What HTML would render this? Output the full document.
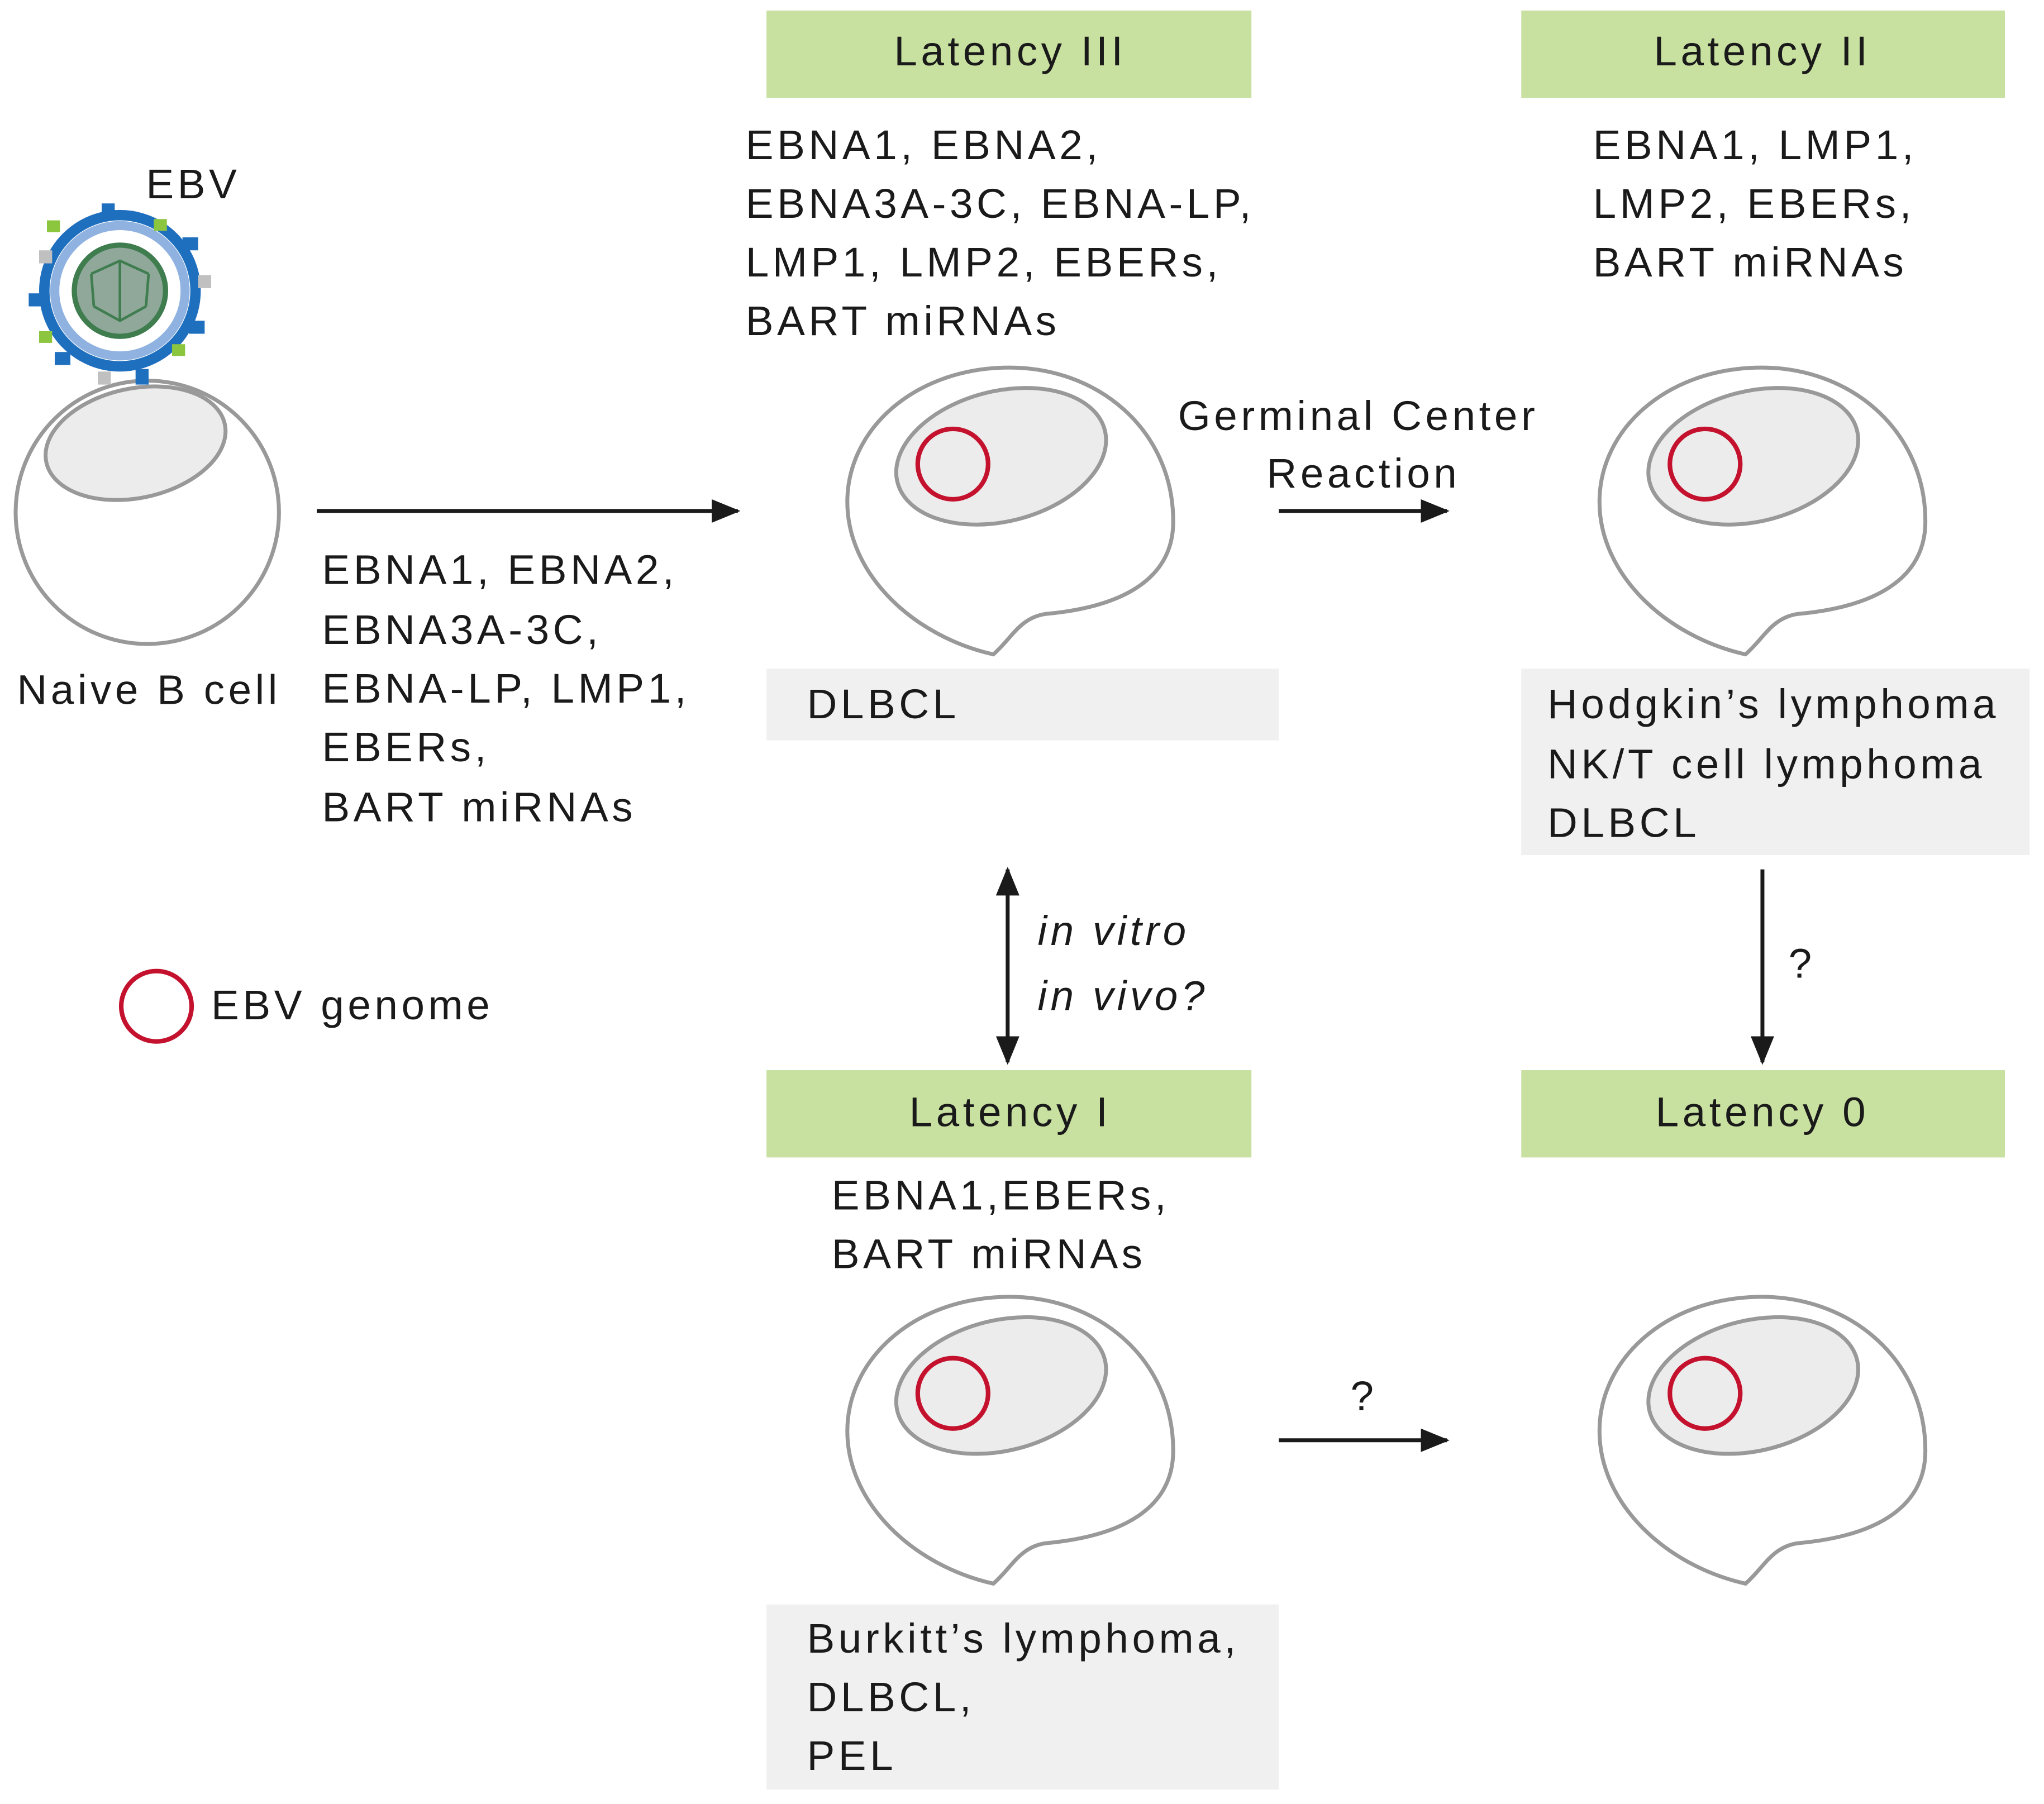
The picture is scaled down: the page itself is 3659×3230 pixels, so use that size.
<!DOCTYPE html>
<html><head><meta charset="utf-8"><style>
html,body{margin:0;padding:0;background:#fff}
svg{display:block}
text{font-family:"Liberation Sans",Arial,sans-serif;fill:#1a1a1a;font-size:32px;letter-spacing:2.8px}
</style></head><body>
<svg width="3659" height="3230" viewBox="0 0 1568 1384" xmlns="http://www.w3.org/2000/svg">
<defs>
<marker id="ah2" markerWidth="22" markerHeight="18" refX="20" refY="9" orient="auto-start-reverse" markerUnits="userSpaceOnUse"><path d="M0,0 L22,9 L0,18 Z" fill="#1a1a1a"/></marker>
<g id="cell">
<path d="M770,282 C700,284 650,330 650,385 C650,440 700,488 762,502 C776,490 782,474 802,471 C868,465 900,440 900,400 C900,330 842,280 770,282 Z" fill="#fff" stroke="#999" stroke-width="3"/>
<ellipse cx="768" cy="350" rx="82" ry="50" transform="rotate(-14 768 350)" fill="#ececec" stroke="#999" stroke-width="3"/>
<circle cx="731" cy="356" r="27" fill="none" stroke="#c4122e" stroke-width="3.5"/>
</g>
</defs>
<rect x="588" y="8" width="372" height="67" fill="#c8e0a0"/>
<rect x="1167" y="8" width="371" height="67" fill="#c8e0a0"/>
<rect x="588" y="821" width="372" height="67" fill="#c8e0a0"/>
<rect x="1167" y="821" width="371" height="67" fill="#c8e0a0"/>
<rect x="588" y="513" width="393" height="55" fill="#f0f0f0"/>
<rect x="1167" y="513" width="390" height="143" fill="#f0f0f0"/>
<rect x="588" y="1231" width="393" height="142" fill="#f0f0f0"/>
<text x="775" y="50" text-anchor="middle">Latency III</text>
<text x="1352" y="50" text-anchor="middle">Latency II</text>
<text x="775" y="864" text-anchor="middle">Latency I</text>
<text x="1352" y="864" text-anchor="middle">Latency 0</text>
<use href="#cell"/>
<use href="#cell" transform="translate(577,0)"/>
<use href="#cell" transform="translate(0,713)"/>
<use href="#cell" transform="translate(577,713)"/>
<circle cx="113" cy="393" r="101" fill="#fff" stroke="#999" stroke-width="3"/>
<ellipse cx="104" cy="340" rx="70" ry="42" transform="rotate(-12 104 340)" fill="#ececec" stroke="#999" stroke-width="3"/>
<g>
<circle cx="92" cy="223" r="58" fill="none" stroke="#1f6fbf" stroke-width="8"/>
<circle cx="92" cy="223" r="50" fill="none" stroke="#8fb2e0" stroke-width="7"/>
<circle cx="92" cy="223" r="35" fill="#8fa89a" stroke="#3f7d4f" stroke-width="4"/>
<g stroke="#3f7d4f" stroke-width="2" fill="none"><path d="M70,210 L92,200 L114,210 M72,235 L92,246 L112,235 M92,200 L92,246 M70,210 L72,235 M114,210 L112,235"/></g>
<g fill="#1f6fbf"><rect x="78" y="156" width="10" height="12"/><rect x="140" y="182" width="12" height="10"/><rect x="145" y="246" width="12" height="10"/><rect x="104" y="283" width="10" height="12"/><rect x="22" y="225" width="12" height="10"/><rect x="42" y="270" width="12" height="10"/></g>
<g fill="#8cc63f"><rect x="118" y="168" width="10" height="9"/><rect x="36" y="169" width="10" height="9"/><rect x="30" y="254" width="10" height="9"/><rect x="132" y="264" width="10" height="9"/></g>
<g fill="#c0c0c0"><rect x="30" y="192" width="10" height="10"/><rect x="152" y="211" width="10" height="10"/><rect x="75" y="285" width="10" height="10"/></g>
</g>
<text x="112" y="152">EBV</text>
<text x="13" y="540">Naive B cell</text>
<circle cx="120" cy="772" r="27" fill="none" stroke="#c4122e" stroke-width="3.5"/>
<text x="162" y="782">EBV genome</text>
<g stroke="#1a1a1a" stroke-width="3">
<line x1="243" y1="392" x2="566" y2="392" marker-end="url(#ah2)"/>
<line x1="981" y1="392" x2="1110" y2="392" marker-end="url(#ah2)"/>
<line x1="981" y1="1105" x2="1110" y2="1105" marker-end="url(#ah2)"/>
<line x1="773" y1="667" x2="773" y2="815" marker-start="url(#ah2)" marker-end="url(#ah2)"/>
<line x1="1352" y1="667" x2="1352" y2="815" marker-end="url(#ah2)"/>
</g>
<text x="572" y="122">EBNA1, EBNA2,</text>
<text x="572" y="167">EBNA3A-3C, EBNA-LP,</text>
<text x="572" y="212">LMP1, LMP2, EBERs,</text>
<text x="572" y="257">BART miRNAs</text>
<text x="1222" y="122">EBNA1, LMP1,</text>
<text x="1222" y="167">LMP2, EBERs,</text>
<text x="1222" y="212">BART miRNAs</text>
<text x="1042" y="330" text-anchor="middle">Germinal Center</text>
<text x="1046" y="374" text-anchor="middle">Reaction</text>
<text x="247" y="448">EBNA1, EBNA2,</text>
<text x="247" y="494">EBNA3A-3C,</text>
<text x="247" y="539">EBNA-LP, LMP1,</text>
<text x="247" y="584">EBERs,</text>
<text x="247" y="630">BART miRNAs</text>
<text x="619" y="551">DLBCL</text>
<text x="1187" y="551">Hodgkin’s lymphoma</text>
<text x="1187" y="597">NK/T cell lymphoma</text>
<text x="1187" y="642">DLBCL</text>
<text x="796" y="725" font-style="italic">in vitro</text>
<text x="796" y="775" font-style="italic">in vivo?</text>
<text x="1372" y="750">?</text>
<text x="1036" y="1082">?</text>
<text x="638" y="928">EBNA1,EBERs,</text>
<text x="638" y="973">BART miRNAs</text>
<text x="619" y="1268">Burkitt’s lymphoma,</text>
<text x="619" y="1313">DLBCL,</text>
<text x="619" y="1358">PEL</text>
</svg>
</body></html>
